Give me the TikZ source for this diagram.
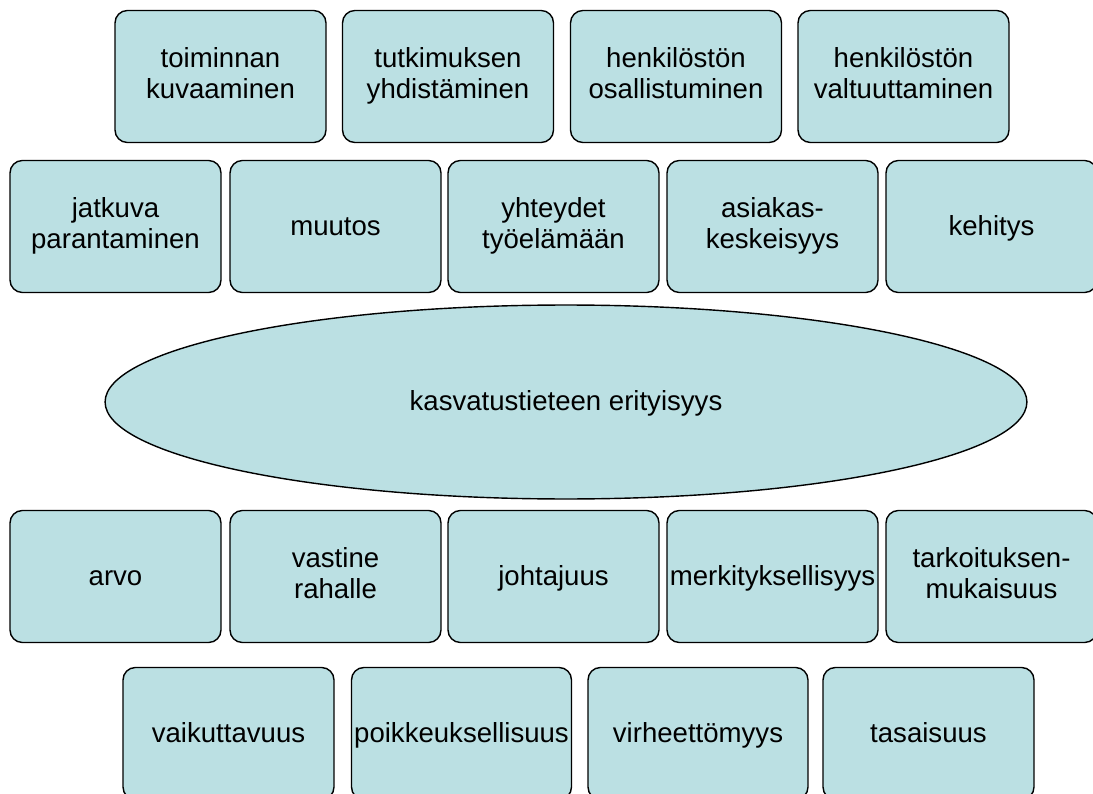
\documentclass[tikz,border=0pt]{standalone}
\usepackage{fontspec}
\setmainfont{Liberation Sans}
\usepackage{tikz}
\usetikzlibrary{shapes.geometric}
\usepackage{xcolor}
\definecolor{boxteal}{RGB}{187,224,227}
% strut that keeps the x-height centred in each tile
\newcommand{\tilestrut}{\rule[-3.7pt]{0pt}{17.6pt}}

\begin{document}
\begin{tikzpicture}[
    x=0.02cm, y=-0.02cm,
    tile/.style={rectangle, draw, fill=boxteal, line width=0.8pt, rounded corners=7pt, minimum width=4.22cm, minimum height=2.64cm, align=center, inner sep=0pt, font=\fontsize{15.7}{17.6}\selectfont, execute at begin node=\tilestrut, execute at end node=\tilestrut},
    wide/.style={tile, minimum width=4.4cm},
    core/.style={ellipse, draw, fill=boxteal, line width=0.8pt, minimum width=18.44cm, minimum height=3.88cm, inner sep=0pt, font=\fontsize{15.7}{17.6}\selectfont, execute at begin node=\tilestrut}
]
\useasboundingbox (0,0) rectangle (1093,794);
\clip (0,0) rectangle (1093,794);

% top row
\node[tile] (kuvaus) at (220.5,76.5) {toiminnan\\kuvaaminen};
\node[tile] (tutkimus) at (448,76.5) {tutkimuksen\\yhdistäminen};
\node[tile] (osallisuus) at (676,76.5) {henkilöstön\\osallistuminen};
\node[tile] (valtuutus) at (903.5,76.5) {henkilöstön\\valtuuttaminen};

% second row
\node[tile] (jatkuva) at (115.5,226.5) {jatkuva\\parantaminen};
\node[tile] (muutos) at (335.5,226.5) {muutos};
\node[tile] (tyoelama) at (553.5,226.5) {yhteydet\\työelämään};
\node[tile] (asiakas) at (772.5,226.5) {asiakas-\\keskeisyys};
\node[tile] (kehitys) at (991.5,226.5) {kehitys};

% centre
\node[core] (erityisyys) at (566,402) {kasvatustieteen erityisyys};

% third row
\node[tile] (arvo) at (115.5,576.5) {arvo};
\node[tile] (vastine) at (335.5,576.5) {vastine\\rahalle};
\node[tile] (johtajuus) at (553.5,576.5) {johtajuus};
\node[tile] (merkitys) at (772.5,576.5) {merkityksellisyys};
\node[tile] (tarkoitus) at (991.5,576.5) {tarkoituksen-\\mukaisuus};

% bottom row
\node[tile] (vaikutus) at (228.5,733.5) {vaikuttavuus};
\node[wide] (poikkeus) at (461.5,733.5) {poikkeuksellisuus};
\node[wide] (virhe) at (698,733.5) {virheettömyys};
\node[tile] (tasaisuus) at (928.5,733.5) {tasaisuus};
\end{tikzpicture}
\end{document}
